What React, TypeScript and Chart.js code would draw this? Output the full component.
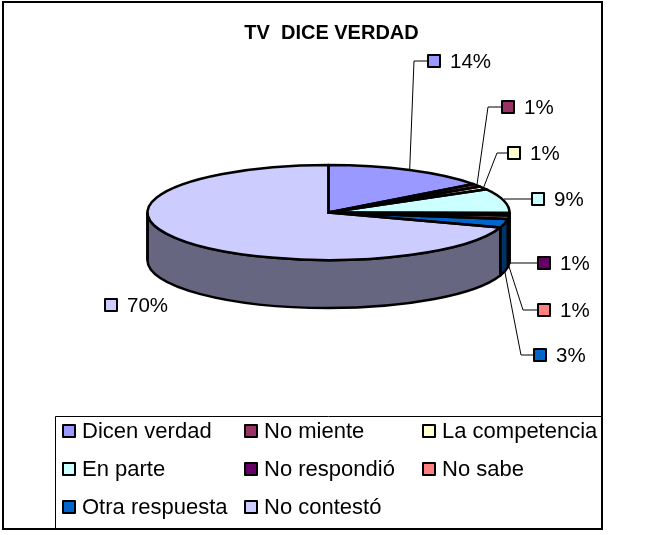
import React, { useEffect, useRef } from "react";
import { Chart, registerables } from "chart.js";

Chart.register(...registerables);

const titleText = "TV  DICE VERDAD";
const categories = ["Dicen verdad", "No miente", "La competencia", "En parte", "No respondió", "No sabe", "Otra respuesta", "No contestó"];
const shares = [14.8, 1.0, 1.1, 8.3, 0.8, 1.2, 2.9, 69.9];
const shareLabels = ["14%", "1%", "1%", "9%", "1%", "1%", "3%", "70%"];
const topColors = ["#9999FF", "#993366", "#FFFFCC", "#CCFFFF", "#660066", "#FF8080", "#0066CC", "#CCCCFF"];
const wallColors = ["#666699", "#4D1A33", "#808066", "#668080", "#330033", "#804040", "#003366", "#666680"];

// layout of the annotation layer
const FONT = '"Liberation Sans", Arial, sans-serif';
const SQUASH = 47.5 / 181;
const DEPTH = 48;
const labelSpots: [number, number, number | null][] = [
  [434, 61, 414], [508, 107, 488], [514, 153, 497], [538, 199, null],
  [544, 263, null], [544, 310, 523], [540, 355, 521], [111, 305, -1],
];
const legendBox = { x: 55, y: 416, w: 546, h: 112 };
const legendCols = [69, 251, 429];
const legendRows = [431, 469, 507];

const swatch = (ctx: CanvasRenderingContext2D, x: number, y: number, color: string) => {
  ctx.fillStyle = color;
  ctx.strokeStyle = "#000";
  ctx.lineWidth = 2;
  ctx.fillRect(x - 6, y - 6, 12, 12);
  ctx.strokeRect(x - 6, y - 6, 12, 12);
};

const pie3d = {
  id: "pie3d",
  afterLayout(chart: any) {
    // the reference's title sits slightly right of the pie's centre
    if (chart.titleBlock) chart.titleBlock.left += 6;
  },
  beforeDraw(chart: any) {
    const { ctx } = chart;
    ctx.save();
    ctx.fillStyle = "#fff";
    ctx.fillRect(0, 0, chart.width, chart.height);
    ctx.strokeStyle = "#000";
    ctx.lineWidth = 2;
    ctx.strokeRect(3, 2, 599, 527);
    ctx.restore();
  },
  beforeDatasetsDraw(chart: any) {
    const { ctx } = chart;
    const arcs = chart.getDatasetMeta(0).data;
    ctx.save();
    ctx.lineJoin = "round";
    arcs.forEach((arc: any, i: number) => {
      const { x, y, outerRadius: r, startAngle, endAngle } = arc.getProps(["x", "y", "outerRadius", "startAngle", "endAngle"]);
      const a = Math.max(startAngle, 0);
      const b = Math.min(endAngle, Math.PI);
      if (b <= a) return;
      ctx.beginPath();
      ctx.ellipse(x, y, r, r * SQUASH, 0, a, b);
      ctx.ellipse(x, y + DEPTH, r, r * SQUASH, 0, b, a, true);
      ctx.closePath();
      ctx.fillStyle = wallColors[i];
      ctx.fill();
      ctx.strokeStyle = "#000";
      ctx.lineWidth = 2.5;
      ctx.stroke();
    });
    // left silhouette of the wall
    const first = arcs[0];
    const cx = first.x, cy = first.y, rr = first.outerRadius;
    ctx.beginPath();
    ctx.moveTo(cx - rr, cy);
    ctx.lineTo(cx - rr, cy + DEPTH);
    ctx.stroke();
    ctx.restore();
    // squash the library's own arcs into the pie's top face
    ctx.save();
    ctx.translate(cx, cy);
    ctx.scale(1, SQUASH);
    ctx.translate(-cx, -cy);
  },
  afterDatasetsDraw(chart: any) {
    const { ctx } = chart;
    ctx.restore();
    const arcs = chart.getDatasetMeta(0).data;
    ctx.save();
    ctx.lineJoin = "round";
    ctx.strokeStyle = "#000";
    ctx.lineWidth = 2.5;
    arcs.forEach((arc: any) => {
      const { x, y, outerRadius: r, startAngle, endAngle } = arc.getProps(["x", "y", "outerRadius", "startAngle", "endAngle"]);
      ctx.beginPath();
      ctx.moveTo(x, y);
      ctx.ellipse(x, y, r, r * SQUASH, 0, startAngle, endAngle);
      ctx.closePath();
      ctx.stroke();
    });

    // leader lines and value labels
    ctx.font = `20.5px ${FONT}`;
    ctx.textBaseline = "middle";
    ctx.textAlign = "left";
    arcs.forEach((arc: any, i: number) => {
      const { x, y, outerRadius: r, startAngle, endAngle } = arc.getProps(["x", "y", "outerRadius", "startAngle", "endAngle"]);
      const mid = (startAngle + endAngle) / 2;
      const ax = x + r * Math.cos(mid);
      const ay = y + r * SQUASH * Math.sin(mid) + (mid > 0 && mid < Math.PI ? DEPTH : 0);
      const [sx, sy, elbow] = labelSpots[i];
      if (elbow !== -1) {
        ctx.strokeStyle = "#000";
        ctx.lineWidth = 1;
        ctx.beginPath();
        ctx.moveTo(sx - 6, sy);
        ctx.lineTo(elbow === null ? ax : elbow, sy);
        if (elbow !== null) ctx.lineTo(ax, ay);
        ctx.stroke();
      }
      swatch(ctx, sx, sy, topColors[i]);
      ctx.fillStyle = "#000";
      ctx.fillText(shareLabels[i], sx + 16, sy + 1);
    });

    // legend
    ctx.strokeStyle = "#000";
    ctx.lineWidth = 1;
    ctx.strokeRect(legendBox.x + 0.5, legendBox.y + 0.5, legendBox.w, legendBox.h);
    ctx.font = `22px ${FONT}`;
    (chart.data.labels as string[]).forEach((name, i) => {
      const col = i % 3, row = Math.floor(i / 3);
      swatch(ctx, legendCols[col], legendRows[row], topColors[i]);
      ctx.fillStyle = "#000";
      ctx.fillText(name, legendCols[col] + 13, legendRows[row] + 1);
    });
    ctx.restore();
  },
};

export default function App() {
  const ref = useRef<HTMLCanvasElement>(null);
  useEffect(() => {
    const chart = new Chart(ref.current!, {
      type: "pie",
      data: {
        labels: categories,
        datasets: [{ data: shares, backgroundColor: topColors, borderWidth: 0, radius: 181, clip: false } as any],
      },
      options: {
        responsive: false,
        animation: false,
        layout: { padding: { left: 3, right: 0, top: 0, bottom: 155 } },
        plugins: {
          legend: { display: false },
          tooltip: { enabled: false },
          title: {
            display: true,
            text: titleText,
            color: "#000",
            font: { family: FONT, size: 20, weight: "bold", lineHeight: 1.2 },
            padding: { top: 21, bottom: 0 },
          },
        },
      },
      plugins: [pie3d],
    });
    return () => chart.destroy();
  }, []);
  return (
    <div style={{ position: "absolute", left: 0, top: 0, width: 654, height: 535, overflow: "hidden" }}>
      <canvas ref={ref} width={654} height={535} style={{ display: "block" }} />
    </div>
  );
}
